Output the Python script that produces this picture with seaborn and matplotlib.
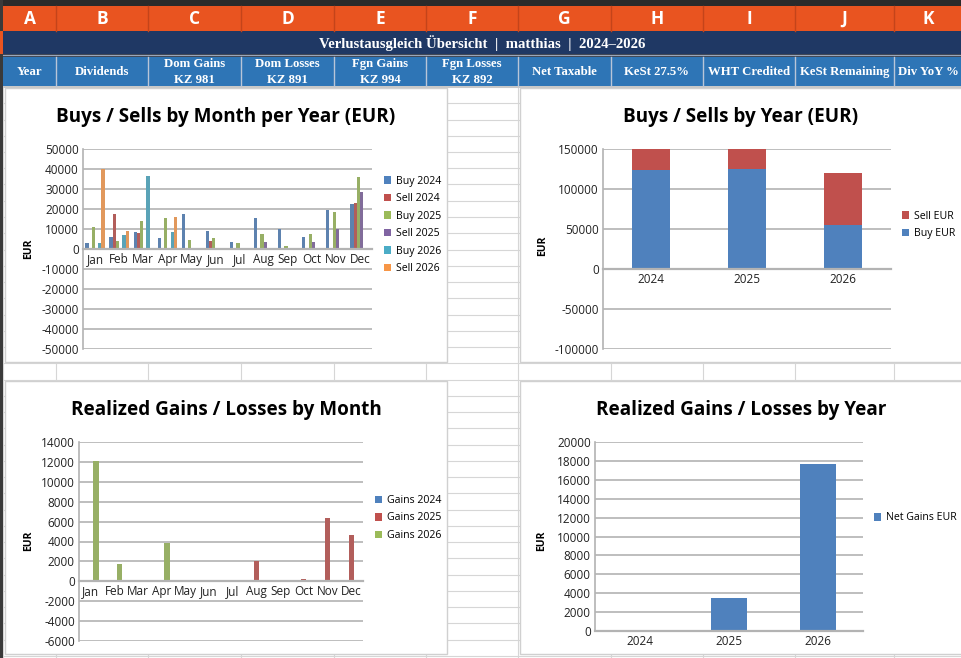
import numpy as np
import pandas as pd
import matplotlib
matplotlib.use("Agg")
import matplotlib.pyplot as plt
import seaborn as sns
from matplotlib.patches import Rectangle, Patch
from matplotlib.lines import Line2D
from matplotlib.ticker import StrMethodFormatter

# ---------------- data ----------------
col_letters = ["A", "B", "C", "D", "E", "F", "G", "H", "I", "J", "K"]
col_headers = ["Year", "Dividends", "Dom Gains\nKZ 981", "Dom Losses\nKZ 891",
               "Fgn Gains\nKZ 994", "Fgn Losses\nKZ 892", "Net Taxable",
               "KeSt 27.5%", "WHT Credited", "KeSt Remaining", "Div YoY %"]
sheet_title = "Verlustausgleich Übersicht  |  matthias  |  2024–2026"

months = ["Jan", "Feb", "Mar", "Apr", "May", "Jun", "Jul", "Aug", "Sep", "Oct", "Nov", "Dec"]
buy_2024 = [3000, 6200, 8600, 5700, 17700, 9000, 3300, 15700, 10000, 6000, 19700, 22400]
sell_2024 = [0, 17400, 7900, 500, 0, 3800, 0, 0, 0, 0, 0, 23100]
buy_2025 = [11200, 3800, 14000, 15700, 4700, 5700, 3000, 7400, 1500, 7500, 18600, 36100]
sell_2025 = [0, 0, 0, 0, 0, 0, 0, 3500, 0, 3500, 10000, 28400]
buy_2026 = [3000, 7200, 36700, 8500, 0, 0, 0, 0, 0, 0, 0, 0]
sell_2026 = [40100, 9000, 0, 15900, 0, 0, 0, 0, 0, 0, 0, 0]
monthly_series = ["Buy 2024", "Sell 2024", "Buy 2025", "Sell 2025", "Buy 2026", "Sell 2026"]

years = ["2024", "2025", "2026"]
buy_year = [124300, 125600, 54500]
sell_year = [52800, 45400, 65200]

gains_2024 = [0] * 12
gains_2025 = [0, 0, 0, 0, 0, 0, 0, 2000, 0, 270, 6380, 4700]
gains_2026 = [12100, 1750, 0, 3860, 0, 0, 0, 0, 0, 0, 0, 0]
gains_series = ["Gains 2024", "Gains 2025", "Gains 2026"]

net_gains_year = [0, 3530, 17670]

# ---------------- style ----------------
BLUE, RED, GREEN, PURPLE, CYAN, ORANGE = "#4f81bd", "#c0504d", "#9bbb59", "#8064a2", "#4bacc6", "#f79646"
W, H = 961, 658
plt.rcParams['font.family'] = ['Open Sans', 'DejaVu Sans']
plt.rcParams['axes.unicode_minus'] = False

fig = plt.figure(figsize=(W / 100, H / 100), dpi=100)
fig.patch.set_facecolor("white")


def rect(x0, y0, x1, y1, fc, ec="none", lw=0, z=-5):
    fig.add_artist(Rectangle((x0 / W, 1 - y1 / H), (x1 - x0) / W, (y1 - y0) / H,
                             transform=fig.transFigure, facecolor=fc, edgecolor=ec,
                             linewidth=lw, zorder=z))


def line(x0, y0, x1, y1, color, lw=1.0, z=-8):
    fig.add_artist(Line2D([x0 / W, x1 / W], [1 - y0 / H, 1 - y1 / H],
                          transform=fig.transFigure, color=color, linewidth=lw, zorder=z))


col_edges = [3, 56, 148, 241, 334, 426, 518, 611, 703, 795, 894, 962]

# spreadsheet cell grid
for x in col_edges[:-1]:
    line(x, 87, x, H, "#d6d6d6", 0.8, -20)
y = 87.0
while y < H:
    line(3, y, W, y, "#d6d6d6", 0.8, -20)
    y += 16.25

# left & top dark strips
rect(0, 0, W, 6, "#2b2b2b", z=-4)
rect(0, 0, 3, H, "#3a3a3a", z=-4)
# orange column header row
rect(3, 6, W, 31, "#e95420", z=-4)
for x in col_edges[1:-1]:
    line(x, 6, x, 31, "#c4441a", 1.0, -3)
for i, letter in enumerate(col_letters):
    cx = (col_edges[i] + col_edges[i + 1]) / 2
    fig.text(cx / W, 1 - 19 / H, letter, ha="center", va="center", color="white",
             fontsize=12.5, fontweight="bold", family=["Open Sans", "DejaVu Sans"])
# navy title row
rect(0, 31, 3, 54, "#e95420", z=-4)
rect(3, 31, W, 54, "#1f3864", z=-4)
rect(3, 54, W, 57, "#3d4452", z=-4)
line(3, 54.5, W, 54.5, "#9aa6ba", 0.8, -3)
fig.text(482 / W, 1 - 43.5 / H, sheet_title, ha="center", va="center", color="white",
         fontsize=10.6, fontweight="bold", family=["Liberation Serif", "DejaVu Serif"])
# blue column title row
rect(3, 57, W, 86, "#2e75b6", z=-4)
rect(3, 86, W, 88, "#c8c8c8", z=-4)
for x in col_edges[1:-1]:
    line(x, 57, x, 86, "#b9c6d8", 1.0, -3)
for i, hdr in enumerate(col_headers):
    cx = (col_edges[i] + col_edges[i + 1]) / 2
    fig.text(cx / W, 1 - 72 / H, hdr, ha="center", va="center", color="white",
             fontsize=9.2, fontweight="bold", linespacing=1.45,
             family=["Liberation Serif", "DejaVu Serif"])

# chart panels
panel_ec = "#d0d0d0"
rect(5, 88, 447, 362, "white", panel_ec, 1.0, -10)
rect(520, 88, 966, 362, "white", panel_ec, 1.0, -10)
rect(5, 381, 447, 654, "white", panel_ec, 1.0, -10)
rect(520, 381, 966, 654, "white", panel_ec, 1.0, -10)


def add_ax(l, t, r, b):
    return fig.add_axes([l / W, 1 - b / H, (r - l) / W, (b - t) / H])


def style(ax, ymin, ymax, step, zero_spine=True):
    ax.set_ylim(ymin, ymax)
    ax.set_yticks(np.arange(ymin, ymax + step, step))
    ax.yaxis.set_major_formatter(StrMethodFormatter("{x:.0f}"))
    ax.yaxis.grid(True, color="#b3b3b3", linewidth=1.2)
    ax.xaxis.grid(False)
    ax.set_axisbelow(True)
    for s in ["top", "right"]:
        ax.spines[s].set_visible(False)
    ax.spines["left"].set_color("#b3b3b3")
    ax.spines["left"].set_linewidth(1.2)
    ax.spines["bottom"].set_color("#b3b3b3")
    ax.spines["bottom"].set_linewidth(1.6)
    if zero_spine:
        ax.spines["bottom"].set_position(("data", 0))
    ax.tick_params(length=0, labelsize=8.5, colors="#222222", pad=3)
    ax.set_xlabel("")
    ax.set_ylabel("")
    ax.set_facecolor("none")


def legend(ax, labels, colors, x, y):
    handles = [Patch(facecolor=c, edgecolor="none") for c in colors]
    ax.legend(handles, labels, loc="center left", bbox_to_anchor=(x / W, 1 - y / H),
              bbox_transform=fig.transFigure, frameon=False, fontsize=7.6,
              handlelength=0.7, handleheight=0.7, handletextpad=0.45,
              labelspacing=0.62, borderpad=0, borderaxespad=0)


def title(text, x, y):
    fig.text(x / W, 1 - y / H, text, ha="center", va="center", fontsize=13.6,
             fontweight="bold", color="black")


def eur(x, y):
    fig.text(x / W, 1 - y / H, "EUR", ha="center", va="center", rotation=90,
             fontsize=7.5, fontweight="bold", color="black")


# ---- chart 1: buys / sells by month per year ----
ax1 = add_ax(83, 149, 372, 349)
df1 = pd.DataFrame({
    "Month": months * 6,
    "Series": [s for s in monthly_series for _ in months],
    "EUR": buy_2024 + sell_2024 + buy_2025 + sell_2025 + buy_2026 + sell_2026,
})
pal1 = dict(zip(monthly_series, [BLUE, RED, GREEN, PURPLE, CYAN, ORANGE]))
sns.barplot(data=df1, x="Month", y="EUR", hue="Series", order=months,
            hue_order=monthly_series, palette=pal1, width=0.8, linewidth=0,
            legend=False, ax=ax1)
style(ax1, -50000, 50000, 10000)
legend(ax1, monthly_series, [pal1[s] for s in monthly_series], 384, 225)
title("Buys / Sells by Month per Year (EUR)", 226, 117)
eur(29, 249)

# ---- chart 2: buys / sells by year (stacked) ----
ax2 = add_ax(603, 149, 891, 349)
df2 = pd.DataFrame({"Year": years, "Buy": buy_year, "Sell": sell_year})
df2["Total"] = df2["Buy"] + df2["Sell"]
sns.barplot(data=df2, x="Year", y="Total", color=RED, saturation=1, width=0.4,
            linewidth=0, ax=ax2)
sns.barplot(data=df2, x="Year", y="Buy", color=BLUE, saturation=1, width=0.4,
            linewidth=0, ax=ax2)
style(ax2, -100000, 150000, 50000)
legend(ax2, ["Sell EUR", "Buy EUR"], [RED, BLUE], 902, 225)
title("Buys / Sells by Year (EUR)", 741, 117)
eur(543, 246)

# ---- chart 3: realized gains by month ----
ax3 = add_ax(79, 442, 363, 641)
df3 = pd.DataFrame({
    "Month": months * 3,
    "Series": [s for s in gains_series for _ in months],
    "EUR": gains_2024 + gains_2025 + gains_2026,
})
pal3 = dict(zip(gains_series, [BLUE, RED, GREEN]))
sns.barplot(data=df3, x="Month", y="EUR", hue="Series", order=months,
            hue_order=gains_series, palette=pal3, width=0.67, linewidth=0,
            legend=False, ax=ax3)
style(ax3, -6000, 14000, 2000)
legend(ax3, gains_series, [pal3[s] for s in gains_series], 375, 518)
title("Realized Gains / Losses by Month", 226, 410)
eur(29, 541)

# ---- chart 4: realized gains by year ----
ax4 = add_ax(595, 442, 863, 631)
df4 = pd.DataFrame({"Year": years, "Net": net_gains_year})
sns.barplot(data=df4, x="Year", y="Net", color=BLUE, saturation=1, width=0.4,
            linewidth=0, ax=ax4)
style(ax4, 0, 20000, 2000, zero_spine=False)
legend(ax4, ["Net Gains EUR"], [BLUE], 874, 518)
title("Realized Gains / Losses by Year", 741, 410)
eur(542, 541)

fig.savefig("out.png", dpi=100, facecolor="white")
